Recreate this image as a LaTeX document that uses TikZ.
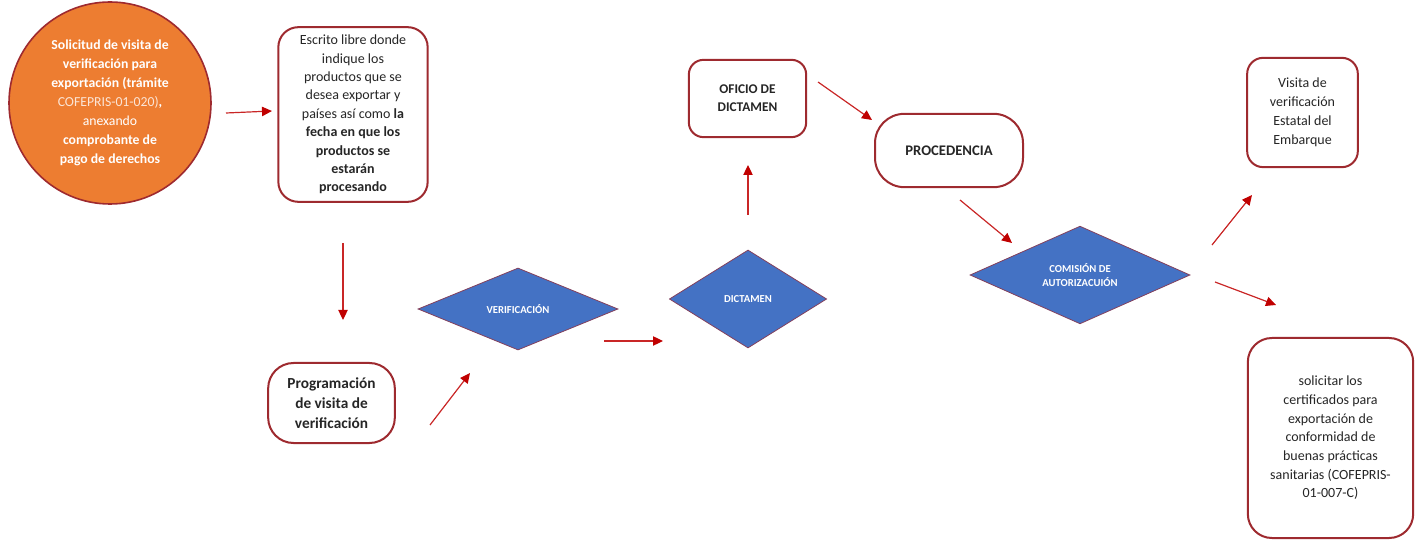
\documentclass[tikz,border=0pt]{standalone}
\usepackage{fontspec}
\setmainfont{Carlito}
\usepackage{tikz}
\usetikzlibrary{shapes}
\usetikzlibrary{arrows.meta}
\definecolor{borde}{HTML}{9E2A2F}
\definecolor{naranja}{HTML}{ED7D31}
\definecolor{azul}{HTML}{4472C4}
\definecolor{flecha}{HTML}{C00000}
\definecolor{claro}{HTML}{FBE5D6}

\begin{document}
\begin{tikzpicture}[x=0.75pt,y=-0.75pt]
					\tikzstyle{caja}=[rectangle,draw=borde,line width=1.5pt,fill=white,align=center,text=black!85,inner sep=2pt,font=\fontsize{10.5}{13.8}\selectfont]
					\tikzstyle{rombo}=[diamond,draw=borde!70!azul,line width=0.6pt,fill=azul,text=white,inner sep=0pt,align=center,font=\bfseries\fontsize{8}{10}\selectfont]
					\tikzstyle{flujo}=[draw=flecha!85!white,line width=0.9pt,-{Triangle[length=7.5pt,width=7pt,color=flecha]}]
					\useasboundingbox (0,0) rectangle (1424,541);

					\node[circle,draw=borde,line width=1.2pt,fill=naranja,text=white,align=center,minimum size=151.5pt,inner sep=0pt,font=\fontsize{10.3}{14.2}\selectfont] (solicitud) at (110,103)
					{\textbf{Solicitud de visita de}\\ \textbf{verificación para}\\ \textbf{exportación (trámite}\\ {\color{claro}COFEPRIS-01-020)}\textbf{,}\\ anexando\\ \textbf{comprobante de}\\ \textbf{pago de derechos}};
					\node[caja,rounded corners=15pt,minimum width=112pt,minimum height=131pt] (escrito) at (353,114.5)
					{Escrito libre donde\\ indique los\\ productos que se\\ desea exportar y\\ países así como \textbf{la}\\ \textbf{fecha en que los}\\ \textbf{productos se}\\ \textbf{estarán}\\ \textbf{procesando}};
					\node[caja,rounded corners=19pt,minimum width=95pt,minimum height=60pt,font=\bfseries\fontsize{11.5}{15}\selectfont] (programacion) at (331.5,403)
					{Programación\\ de visita de\\ verificación};
					\node[rombo,minimum width=150pt,minimum height=61.5pt] (verificacion) at (518,309) {VERIFICACIÓN};
					\node[rombo,minimum width=118pt,minimum height=73.5pt] (dictamen) at (748,299) {DICTAMEN};
					\node[caja,rounded corners=11pt,minimum width=88pt,minimum height=58pt,font=\bfseries\fontsize{10}{13.5}\selectfont] (oficio) at (747.5,98.5) {OFICIO DE\\ DICTAMEN};
					\node[caja,rounded corners=22pt,minimum width=111pt,minimum height=55pt,font=\bfseries\fontsize{11}{13}\selectfont] (procedencia) at (949,150.5) {PROCEDENCIA};
					\node[rombo,minimum width=165pt,minimum height=70.5pt] (comision) at (1080,275) {COMISIÓN DE\\ AUTORIZACUIÓN};
					\node[caja,rounded corners=12pt,minimum width=83pt,minimum height=82pt,font=\fontsize{10.5}{14.2}\selectfont] (visita) at (1302.5,112.5)
					{Visita de\\ verificación\\ Estatal del\\ Embarque};
					\node[caja,rounded corners=18pt,minimum width=124pt,minimum height=150pt,font=\fontsize{10.5}{14}\selectfont] (certificados) at (1330.5,438)
					{solicitar los\\ certificados para\\ exportación de\\ conformidad de\\ buenas prácticas\\ sanitarias (COFEPRIS-\\ 01-007-C)};

					\coordinate (f1a) at (226,113);  \coordinate (f1b) at (272,111);
					\coordinate (f2a) at (343,243);  \coordinate (f2b) at (343,320);
					\coordinate (f3a) at (430,425);  \coordinate (f3b) at (470,373);
					\coordinate (f4a) at (604,341);  \coordinate (f4b) at (663,341);
					\coordinate (f5a) at (748,215);  \coordinate (f5b) at (748,165);
					\coordinate (f6a) at (818,82);   \coordinate (f6b) at (872,120);
					\coordinate (f7a) at (960,200);  \coordinate (f7b) at (1012,243);
					\coordinate (f8a) at (1212,245); \coordinate (f8b) at (1252,195);
					\coordinate (f9a) at (1215,282); \coordinate (f9b) at (1276,305);
					\foreach \i in {1,...,9}
						\draw[flujo] (f\i a) -- (f\i b);
					\end{tikzpicture}
\end{document}
